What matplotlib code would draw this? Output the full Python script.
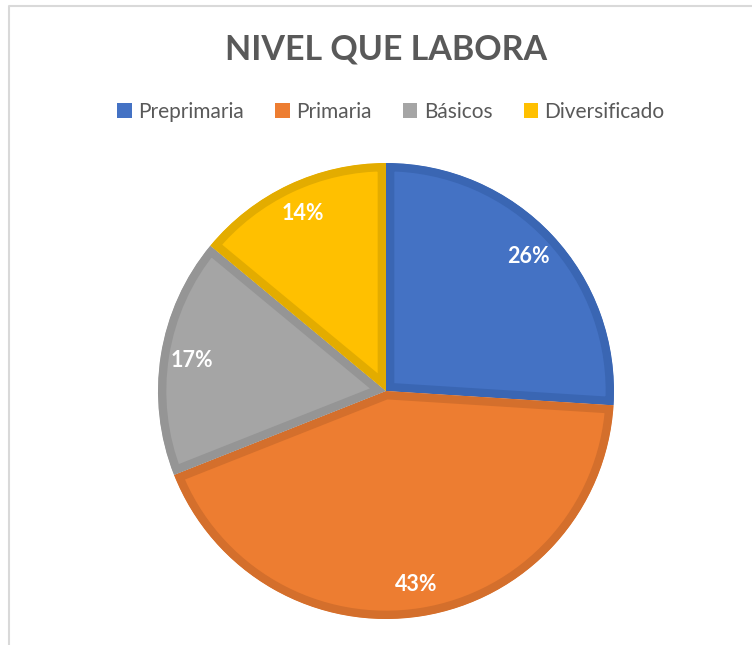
import matplotlib
matplotlib.use("Agg")
import matplotlib.pyplot as plt
from matplotlib.patches import Patch

plt.rcParams['font.family'] = ['Lato', 'DejaVu Sans']

categories = ['Preprimaria', 'Primaria', 'Básicos', 'Diversificado']
values = [26, 43, 17, 14]
colors = ['#4472C4', '#ED7D31', '#A5A5A5', '#FFC000']
edge_colors = ['#3A66B3', '#D46F2C', '#959595', '#E3AC00']
title = 'NIVEL QUE LABORA'

fig = plt.figure(figsize=(7.52, 6.45), dpi=100)
ax = fig.add_axes([0, 0, 1, 1])

wedges, texts, autotexts = ax.pie(
    values, colors=colors, startangle=90, counterclock=False,
    center=(386, 254), radius=228, autopct='%1.0f%%', pctdistance=0.86,
    wedgeprops=dict(linewidth=0),
    textprops=dict(color='white', fontsize=15.5, fontweight='bold'))

# pie() resets the limits, so set them afterwards (1 unit = 1 pixel)
ax.set_xlim(0, 752)
ax.set_ylim(0, 645)
ax.set_aspect('equal')
ax.axis('off')

# darker inner border clipped to each slice
for w, ec in zip(wedges, edge_colors):
    w.set_edgecolor(ec)
    w.set_linewidth(12)
    w.set_clip_on(True)
    w.set_clip_path(w)

# light chart-area frame (left and top visible)
ax.plot([8.5, 8.5, 752], [0, 639.5, 639.5], color='#D9D9D9', lw=1.5,
        solid_capstyle='butt')

fig.text(0.514, 1 - 50 / 645, title, ha='center', va='center',
         fontsize=24.5, fontweight='bold', color='#595959')

handles = [Patch(facecolor=c, edgecolor='none') for c in colors]
leg = fig.legend(handles, categories, loc='center', ncol=4,
                 bbox_to_anchor=(0.52, 1 - 112 / 645), frameon=False,
                 fontsize=15, handlelength=0.7, handleheight=0.7,
                 handletextpad=0.3, columnspacing=1.5)
for t in leg.get_texts():
    t.set_color('#595959')

fig.savefig('out.png', dpi=100)
